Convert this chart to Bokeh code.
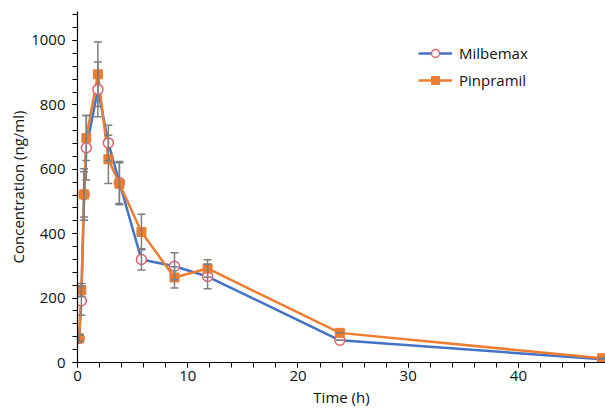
from bokeh.plotting import figure
from bokeh.models import (ColumnDataSource, Whisker, Legend, LegendItem, Range1d, TeeHead,
                          FixedTicker)
from bokeh.embed import file_html
from bokeh.resources import INLINE

# ---- data ----
times = [0.15, 0.35, 0.6, 0.8, 1.85, 2.8, 3.8, 5.8, 8.8, 11.8, 23.8, 47.6]
milbemax = [75, 192, 522, 667, 848, 682, 559, 320, 299, 267, 69, 10]
milbemax_err = [10, 45, 80, 100, 85, 55, 65, 33, 42, 38, 0, 0]
pinpramil = [75, 225, 522, 697, 895, 631, 555, 405, 264, 292, 92, 13]
pinpramil_err = [10, 20, 70, 70, 100, 75, 65, 55, 33, 27, 0, 0]
x_ticks = [0, 10, 20, 30, 40]
x_minor = list(range(0, 49, 2))
y_ticks = [0, 200, 400, 600, 800, 1000]
y_minor = list(range(0, 1090, 40))
x_title = "Time (h)"
y_title = "Concentration (ng/ml)"

FONT = "Open Sans"
BLUE = "#4472c4"
ORANGE = "#ed7d31"
RING = "#e06070"
ERR = "#7f7f7f"

p = figure(width=605, height=409, output_backend="svg", toolbar_location=None,
           x_range=Range1d(0, 47.9), y_range=Range1d(0, 1090),
           min_border_left=77, min_border_right=0, min_border_top=11, min_border_bottom=44)
p.outline_line_color = None
p.xgrid.visible = False
p.ygrid.visible = False
p.background_fill_color = "white"
p.border_fill_color = "white"

src_m = ColumnDataSource(dict(t=times, y=milbemax,
                              lo=[v - e for v, e in zip(milbemax, milbemax_err)],
                              hi=[v + e for v, e in zip(milbemax, milbemax_err)]))
src_p = ColumnDataSource(dict(t=times, y=pinpramil,
                              lo=[v - e for v, e in zip(pinpramil, pinpramil_err)],
                              hi=[v + e for v, e in zip(pinpramil, pinpramil_err)]))

for src in (src_m, src_p):
    w = Whisker(base="t", lower="lo", upper="hi", source=src, line_color=ERR, line_width=1.5,
                upper_head=TeeHead(size=8, line_color=ERR, line_width=1.5),
                lower_head=TeeHead(size=8, line_color=ERR, line_width=1.5))
    w.level = "glyph"
    p.add_layout(w)

l_m = p.line("t", "y", source=src_m, line_color=BLUE, line_width=2.5)
l_p = p.line("t", "y", source=src_p, line_color=ORANGE, line_width=2.5)
s_m = p.scatter("t", "y", source=src_m, marker="circle", size=10, fill_color="white",
                line_color=RING, line_width=1.5)
s_p = p.scatter("t", "y", source=src_p, marker="square", size=9, fill_color=ORANGE,
                line_color=ORANGE)

legend = Legend(items=[LegendItem(label="Milbemax", renderers=[l_m, s_m]),
                       LegendItem(label="Pinpramil", renderers=[l_p, s_p])],
                location=(341, 272), border_line_color=None, background_fill_alpha=0,
                padding=0, margin=0, spacing=7, glyph_width=34, glyph_height=20,
                label_height=20, label_standoff=7,
                label_text_font=FONT, label_text_font_size="15px", label_text_color="#111111")
p.add_layout(legend)

for ax in (p.xaxis[0], p.yaxis[0]):
    ax.axis_line_color = "black"
    ax.axis_line_width = 1.2
    ax.major_tick_line_color = "black"
    ax.minor_tick_line_color = "black"
    ax.major_tick_in = 0
    ax.minor_tick_in = 0
    ax.major_tick_out = 5
    ax.minor_tick_out = 5
    ax.major_label_text_font = FONT
    ax.major_label_text_font_size = "15px"
    ax.major_label_text_color = "#111111"
    ax.axis_label_text_font = FONT
    ax.axis_label_text_font_size = "15px"
    ax.axis_label_text_font_style = "normal"
    ax.axis_label_text_color = "#111111"

p.xaxis[0].ticker = FixedTicker(ticks=x_ticks, minor_ticks=x_minor)
p.yaxis[0].ticker = FixedTicker(ticks=y_ticks, minor_ticks=y_minor)
p.xaxis.axis_label = x_title
p.yaxis.axis_label = y_title
p.xaxis.major_label_standoff = 3
p.xaxis.axis_label_standoff = 3
p.xaxis.axis_label_text_line_height = 0.6
p.yaxis.major_label_standoff = 7
p.yaxis.axis_label_standoff = 0

open("out.html", "w").write(file_html(p, INLINE))
